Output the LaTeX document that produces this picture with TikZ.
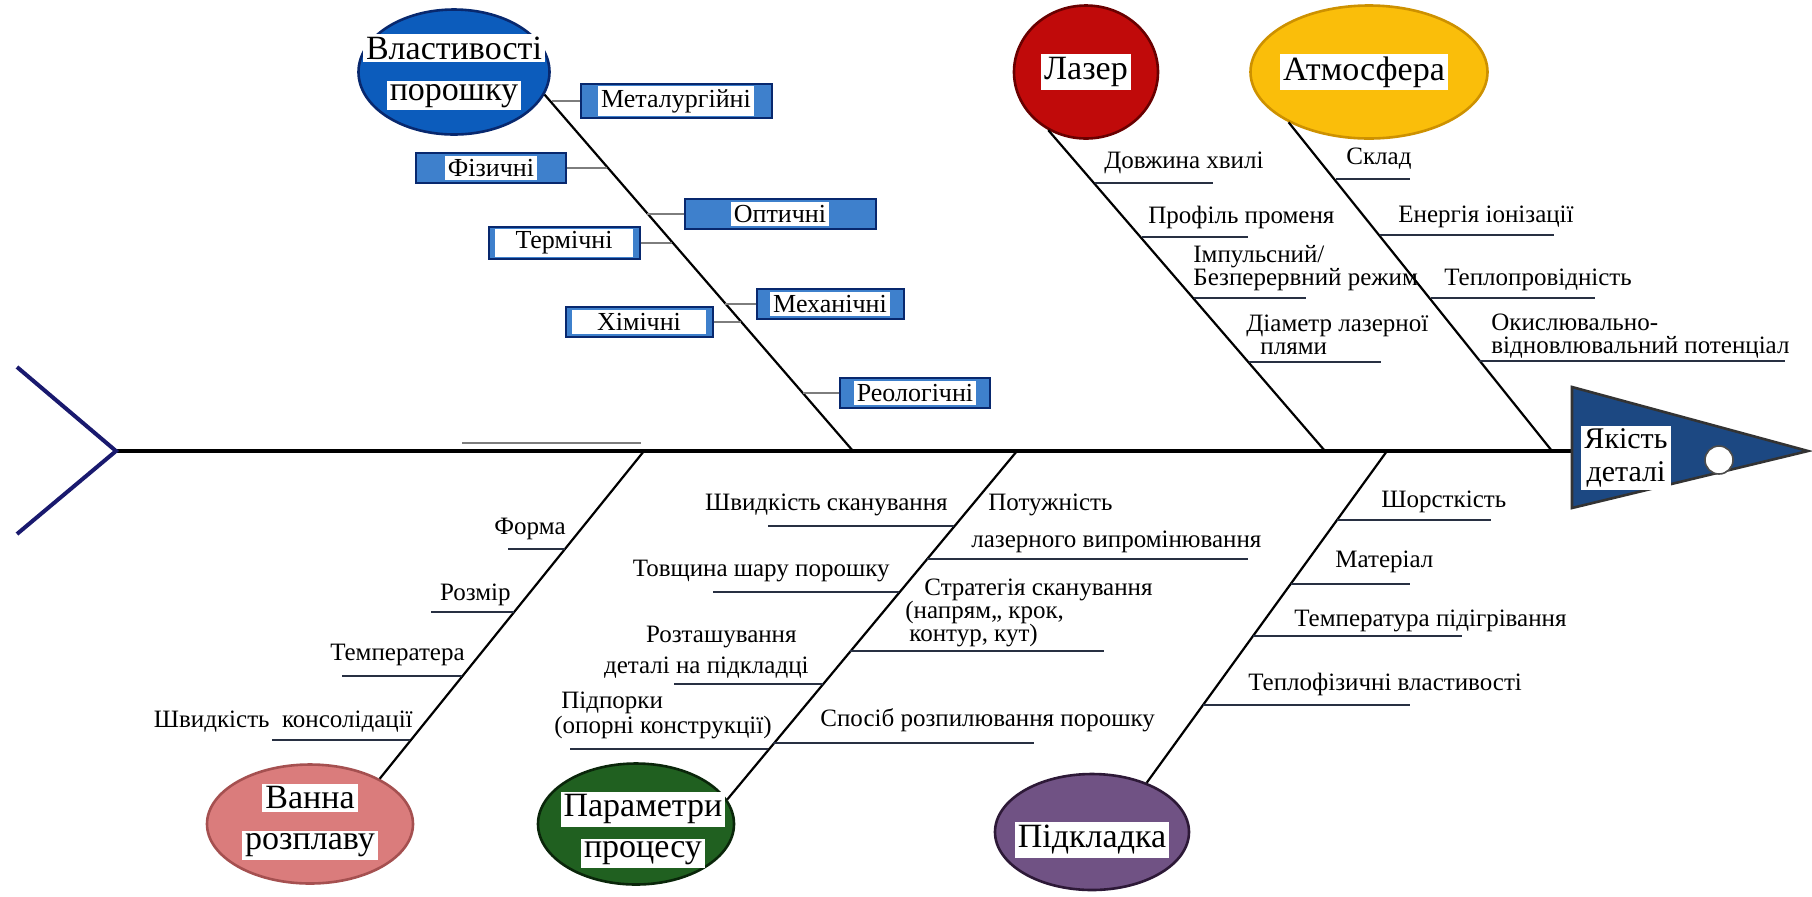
\documentclass[tikz,border=0pt]{standalone}
\usepackage{fontspec}
\setmainfont{Liberation Serif}
\usepackage{tikz}
\usetikzlibrary{shapes.geometric}

\definecolor{powderfill}{RGB}{12,92,188}
\definecolor{powderline}{RGB}{8,40,110}
\definecolor{laserfill}{RGB}{192,10,10}
\definecolor{laserline}{RGB}{105,0,0}
\definecolor{atmofill}{RGB}{250,190,10}
\definecolor{atmoline}{RGB}{205,145,0}
\definecolor{bathfill}{RGB}{218,124,124}
\definecolor{bathline}{RGB}{165,80,80}
\definecolor{procfill}{RGB}{32,96,32}
\definecolor{procline}{RGB}{10,38,10}
\definecolor{subsfill}{RGB}{112,82,132}
\definecolor{subsline}{RGB}{45,25,55}
\definecolor{headfill}{RGB}{28,72,130}
\definecolor{tailcol}{RGB}{25,25,110}
\definecolor{boxblue}{RGB}{62,128,204}
\definecolor{ulinecol}{RGB}{40,48,66}
\definecolor{twiggray}{RGB}{125,125,125}

\setlength{\fboxsep}{1.5pt}
\newcommand{\whitelbl}[1]{\colorbox{white}{#1}}

\tikzset{
  cause/.style={ellipse, fill=#1fill, draw=#1line, line width=1.3pt, inner sep=0pt},
  causelbl/.style={font=\fontsize{17}{20.5}\selectfont, align=center, inner sep=0pt},
  pbox/.style={draw=powderline, line width=1pt, fill=boxblue, inner xsep=3pt, inner ysep=1pt,
    minimum height=15pt, font=\fontsize{13}{14}\selectfont},
  lbl/.style={font=\fontsize{12.5}{14}\selectfont, inner sep=0pt},
  spine/.style={line width=1.8pt, black},
  bone/.style={line width=1.1pt, black},
  uline/.style={line width=1pt, ulinecol},
  twig/.style={line width=1pt, twiggray},
}

\begin{document}
\begin{tikzpicture}[x=0.5pt,y=0.5pt,yscale=-1]
\useasboundingbox (0,0) rectangle (1812,896);

%Straight Lines: spine, tail and head
\coordinate (tail) at (116,451);
\coordinate (head) at (1572,451);
\draw [spine] (tail) -- (head);
\draw [line width=2pt, tailcol] (17,367) -- (tail) -- (17,534);
\draw [line width=1.3pt, draw=black!80, fill=headfill] (1572,387) -- (1808,451) -- (1572,508) -- cycle;
\node [circle, fill=white, draw=black!70, line width=0.8pt, minimum size=14pt, inner sep=0pt] (eye) at (1719,460) {};
% Text Node
\node [fill=white, align=center, inner sep=1.5pt, font=\fontsize{15}{16.5}\selectfont] (quality) at (1626,458) {Якість\\деталі};

%Straight Lines: stray line above spine
\draw [twig] (462,443) -- (641,443);

%Shape: Ellipse
\node [cause=powder, minimum width=95.5pt, minimum height=62.5pt] (powder) at (454,72) {};
\node [cause=laser, minimum width=72pt, minimum height=66.5pt] (laser) at (1086,72) {};
\node [cause=atmo, minimum width=118.5pt, minimum height=66.5pt] (atmo) at (1369,72) {};
\node [cause=bath, minimum width=103pt, minimum height=59.5pt] (bath) at (310,824) {};
\node [cause=proc, minimum width=98pt, minimum height=60.5pt] (proc) at (636,824) {};
\node [cause=subs, minimum width=97pt, minimum height=58pt] (subs) at (1092,832) {};

% Text Node
\node [causelbl] (powderlbl) at (454,72) {\whitelbl{Властивості}\\\whitelbl{порошку}};
\node [causelbl] (laserlbl) at (1086,72) {\whitelbl{Лазер}};
\node [causelbl] (atmolbl) at (1364,72) {\whitelbl{Атмосфера}};
\node [causelbl] (bathlbl) at (310,822) {\whitelbl{Ванна}\\\whitelbl{розплаву}};
\node [causelbl] (proclbl) at (643,830) {\whitelbl{Параметри}\\\whitelbl{процесу}};
\node [causelbl] (subslbl) at (1092,840) {\whitelbl{Підкладка}};

%Straight Lines: bones
\coordinate (pwJ) at (853,451);
\coordinate (lsJ) at (1325,451);
\coordinate (atJ) at (1552,451);
\coordinate (bhJ) at (644,451);
\coordinate (prJ) at (1017,451);
\coordinate (sbJ) at (1387,451);
\draw [bone] (powder.-14) -- (pwJ);
\draw [bone] (laser.237) -- (lsJ);
\draw [bone] (atmo.212) -- (atJ);
\draw [bone] (bath.33) -- (bhJ);
\draw [bone] (proc.15) -- (prJ);
\draw [bone] (subs.42) -- (sbJ);

%Shape: Rectangle (powder properties)
\node [pbox, minimum width=95.5pt] (metal) at (676,101) {\whitelbl{Металургійні}};
\node [pbox, minimum width=75pt] (phys) at (491,168) {\whitelbl{Фізичні}};
\node [pbox, minimum width=95.5pt] (optic) at (780,214) {\whitelbl{Оптичні}};
\node [pbox, minimum width=75.5pt, inner xsep=1.5pt] (therm) at (564,243) {\whitelbl{\makebox[66pt]{Термічні}}};
\node [pbox, minimum width=73.5pt] (mech) at (830,304) {\whitelbl{Механічні}};
\node [pbox, minimum width=73.5pt, inner xsep=1.5pt] (chem) at (639,322) {\whitelbl{\makebox[64pt]{Хімічні}}};
\node [pbox, minimum width=75pt] (rheo) at (915,393) {\whitelbl{Реологічні}};
\coordinate (tw1) at (552,101);
\coordinate (tw2) at (607,168);
\coordinate (tw3) at (647,214);
\coordinate (tw4) at (672,243);
\coordinate (tw5) at (725,304);
\coordinate (tw6) at (741,322);
\coordinate (tw7) at (803,393);
\draw [twig] (metal.west) -- (tw1);
\draw [twig] (phys.east) -- (tw2);
\draw [twig] (optic.west) -- (tw3);
\draw [twig] (therm.east) -- (tw4);
\draw [twig] (mech.west) -- (tw5);
\draw [twig] (chem.east) -- (tw6);
\draw [twig] (rheo.west) -- (tw7);

% Text Node: laser
\node [lbl, anchor=west] (wave) at (1104,163) {Довжина хвилі};
\node [lbl, anchor=west] (profile) at (1148,217) {Профіль променя};
\node [lbl, anchor=west, align=left, font=\fontsize{12.5}{11.5}\selectfont] (pulse) at (1193,268) {Імпульсний/\\Безперервний режим};
\node [lbl, anchor=west, align=left, font=\fontsize{12.5}{11.5}\selectfont] (spot) at (1246,335) {Діаметр лазерної\\\hspace*{7pt}плями};
\draw [uline] (1095,183) -- (1213,183);
\draw [uline] (1142,237) -- (1248,237);
\draw [uline] (1194,298) -- (1306,298);
\draw [uline] (1249,362) -- (1381,362);

% Text Node: atmosphere
\node [lbl, anchor=west] (compos) at (1346,159) {Склад};
\node [lbl, anchor=west] (ioniz) at (1398,217) {Енергія іонізації};
\node [lbl, anchor=west] (conduct) at (1444,280) {Теплопровідність};
\node [lbl, anchor=west, align=left, font=\fontsize{12.5}{11.5}\selectfont] (redox) at (1491,336) {Окислювально-\\відновлювальний потенціал};
\draw [uline] (1336,179) -- (1410,179);
\draw [uline] (1380,235) -- (1554,235);
\draw [uline] (1431,298) -- (1595,298);
\draw [uline] (1479,361) -- (1785,361);

% Text Node: melt pool
\node [lbl, anchor=east] (form) at (566,529) {Форма};
\node [lbl, anchor=east] (size) at (511,595) {Розмір};
\node [lbl, anchor=east] (temp) at (465,655) {Температера};
\node [lbl, anchor=east] (solid) at (413,722) {Швидкість\ \ консолідації};
\draw [uline] (508,549) -- (565,549);
\draw [uline] (431,612) -- (514,612);
\draw [uline] (342,676) -- (462,676);
\draw [uline] (272,740) -- (410,740);

% Text Node: process parameters
\node [lbl, anchor=east] (speed) at (948,505) {Швидкість сканування};
\node [lbl, anchor=east] (layer) at (890,571) {Товщина шару порошку};
\node [lbl, anchor=east, align=right, font=\fontsize{12.5}{15.5}\selectfont] (place) at (809,652) {Розташування\hspace*{6pt}\\деталі на підкладці};
\node [lbl, anchor=east, align=left, font=\fontsize{12.5}{12.5}\selectfont] (support) at (772,715) {\hspace*{3.5pt}Підпорки\\(опорні конструкції)};
\node [lbl, anchor=west, align=left, font=\fontsize{12.5}{18.5}\selectfont] (power) at (971,523) {\hspace*{8.5pt}Потужність\\лазерного випромінювання};
\node [lbl, anchor=west, align=left, font=\fontsize{12.5}{11.5}\selectfont] (strategy) at (905,613) {\hspace*{9.5pt}Стратегія сканування\\(напрям,, крок,\\\hspace*{2pt}контур, кут)};
\node [lbl, anchor=west] (atomiz) at (820,720) {Спосіб розпилювання порошку};
\draw [uline] (768,526) -- (954,526);
\draw [uline] (713,592) -- (899,592);
\draw [uline] (674,684) -- (823,684);
\draw [uline] (570,749) -- (768,749);
\draw [uline] (927,559) -- (1248,559);
\draw [uline] (850,651) -- (1104,651);
\draw [uline] (773,743) -- (1034,743);

% Text Node: substrate
\node [lbl, anchor=west] (rough) at (1381,502) {Шорсткість};
\node [lbl, anchor=west] (material) at (1335,562) {Матеріал};
\node [lbl, anchor=west] (preheat) at (1294,621) {Температура підігрівання};
\node [lbl, anchor=west] (thermo) at (1248,684) {Теплофізичні властивості};
\draw [uline] (1337,520) -- (1491,520);
\draw [uline] (1291,584) -- (1410,584);
\draw [uline] (1253,636) -- (1462,636);
\draw [uline] (1203,705) -- (1410,705);

\end{tikzpicture}
\end{document}
